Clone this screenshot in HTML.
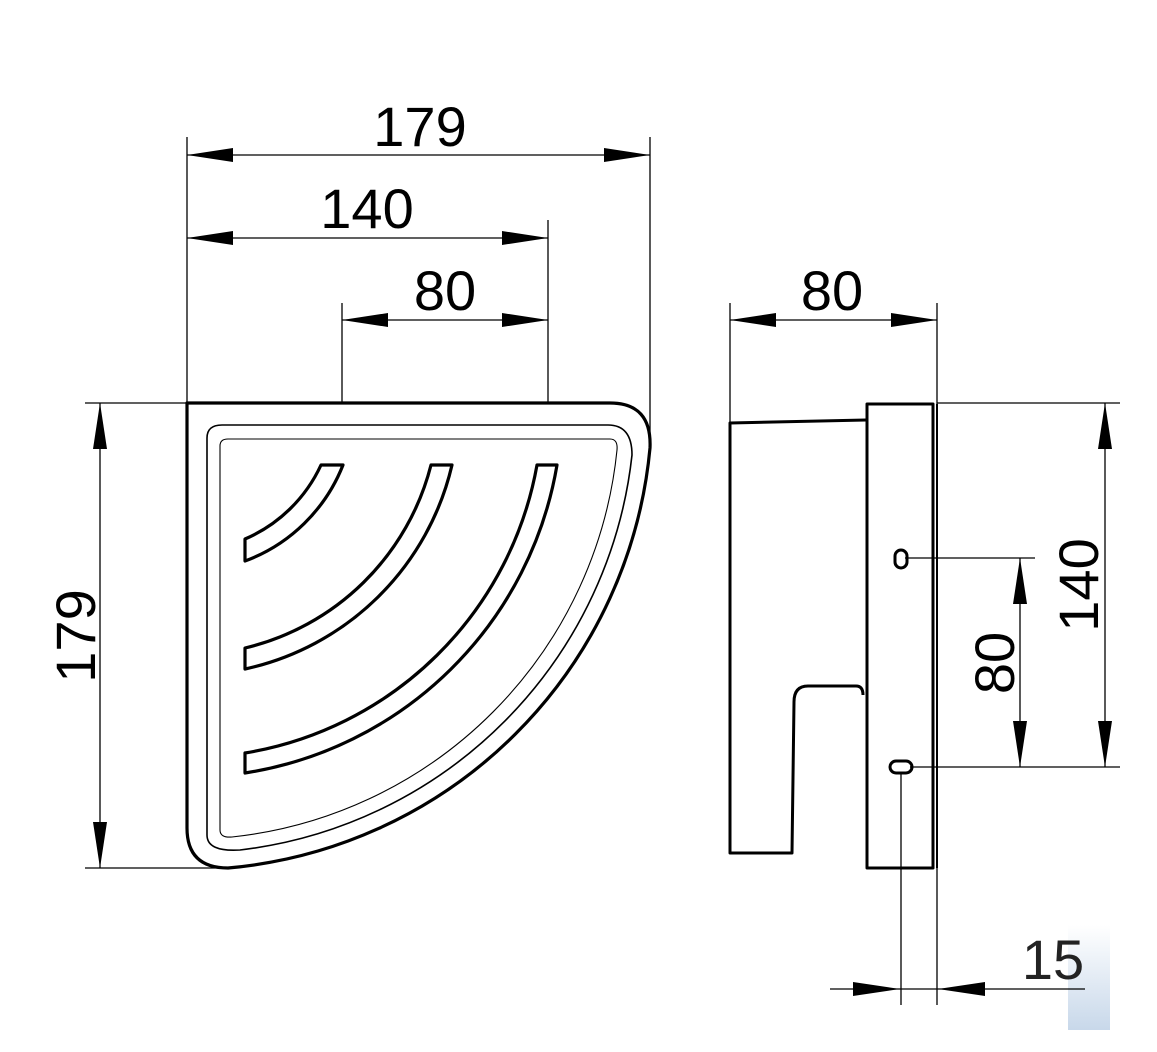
<!DOCTYPE html>
<html><head><meta charset="utf-8"><style>html,body{margin:0;padding:0;background:#fff}svg{display:block}</style></head>
<body>
<svg width="1157" height="1052" viewBox="0 0 1157 1052" xmlns="http://www.w3.org/2000/svg" font-family="Liberation Sans, sans-serif">
<defs><linearGradient id="g" x1="0" y1="0" x2="0" y2="1"><stop offset="0" stop-color="#fff"/><stop offset="1" stop-color="#c8d8ea"/></linearGradient></defs>
<rect x="1068" y="925" width="42" height="105" fill="url(#g)"/>
<g stroke="#000" fill="none" stroke-width="1.3">
<line x1="187" y1="137" x2="187" y2="403"/>
<line x1="650" y1="137" x2="650" y2="440"/>
<line x1="548" y1="220" x2="548" y2="403"/>
<line x1="342" y1="303" x2="342" y2="403"/>
<line x1="85" y1="403" x2="187" y2="403"/>
<line x1="85" y1="868" x2="228" y2="868"/>
<line x1="187" y1="155" x2="650" y2="155"/>
<line x1="187" y1="238" x2="548" y2="238"/>
<line x1="342" y1="320" x2="548" y2="320"/>
<line x1="100" y1="403" x2="100" y2="868"/>
<line x1="730" y1="303" x2="730" y2="423"/>
<line x1="937" y1="303" x2="937" y2="1005"/>
<line x1="730" y1="320" x2="937" y2="320"/>
<line x1="937" y1="403" x2="1120" y2="403"/>
<line x1="905" y1="558" x2="1035" y2="558"/>
<line x1="910" y1="767" x2="1120" y2="767"/>
<line x1="1105" y1="403" x2="1105" y2="767"/>
<line x1="1020" y1="558" x2="1020" y2="767"/>
<line x1="901" y1="772" x2="901" y2="1005"/>
<line x1="830" y1="989" x2="1085" y2="989"/>
</g>
<g fill="#000">
<polygon points="187,155 233,148 233,162"/><polygon points="650,155 604,148 604,162"/>
<polygon points="187,238 233,231 233,245"/><polygon points="548,238 502,231 502,245"/>
<polygon points="342,320 388,313 388,327"/><polygon points="548,320 502,313 502,327"/>
<polygon points="100,403 93,449 107,449"/><polygon points="100,868 93,822 107,822"/>
<polygon points="730,320 776,313 776,327"/><polygon points="937,320 891,313 891,327"/>
<polygon points="1105,403 1098,449 1112,449"/><polygon points="1105,767 1098,721 1112,721"/>
<polygon points="1020,558 1013,604 1027,604"/><polygon points="1020,767 1013,721 1027,721"/>
<polygon points="900,989 853,982 853,996"/><polygon points="938,989 985,982 985,996"/>
</g>
<g fill="none" stroke="#000" stroke-linejoin="round">
<path d="M187,403 L610,403 Q652,403 650,448 A465,465 0 0 1 228,868 Q187,868 187,828 Z" stroke-width="3.2"/>
<path d="M207,438 Q207,425 222,425 L608,425 Q632,425 632,455 A447,447 0 0 1 240,850 Q207,852 207,835 Z" stroke-width="1.6"/>
<path d="M220,446 Q220,439 228,439 L610,439 Q618,439 617,450 A433,433 0 0 1 232,837 Q220,838 220,830 Z" stroke-width="1.1"/>
<path d="M343,465 A168,168 0 0 1 245,561 L245,539 A148,148 0 0 0 321,465 Z" stroke-width="3.2"/>
<path d="M452,465 A272,272 0 0 1 245,669 L245,648 A252,252 0 0 0 431,465 Z" stroke-width="3.2"/>
<path d="M557,465 A375,375 0 0 1 245,773 L245,753 A355,355 0 0 0 537,465 Z" stroke-width="3.2"/>
</g>
<g fill="none" stroke="#000" stroke-width="3" stroke-linejoin="round">
<path d="M866,420 L730,423 L730,853 L792,853 L794,702 Q794,686 808,686 L856,686 Q863,686 863,695"/>
<rect x="867" y="404" width="66" height="464"/>
<line x1="937" y1="404" x2="937" y2="868" stroke-width="2"/>
<rect x="895" y="550" width="12" height="18" rx="6"/>
<rect x="890" y="761" width="22" height="12" rx="6"/>
</g>
<g font-size="56" fill="#000" text-anchor="middle">
<text x="420" y="146">179</text>
<text x="367" y="228">140</text>
<text x="445" y="310">80</text>
<text x="832" y="310">80</text>
<text transform="translate(95,636) rotate(-90)">179</text>
<text transform="translate(1098,585) rotate(-90)">140</text>
<text transform="translate(1014,663) rotate(-90)">80</text>
<text x="1053" y="979" fill="#222">15</text>
</g>
</svg>
</body></html>
